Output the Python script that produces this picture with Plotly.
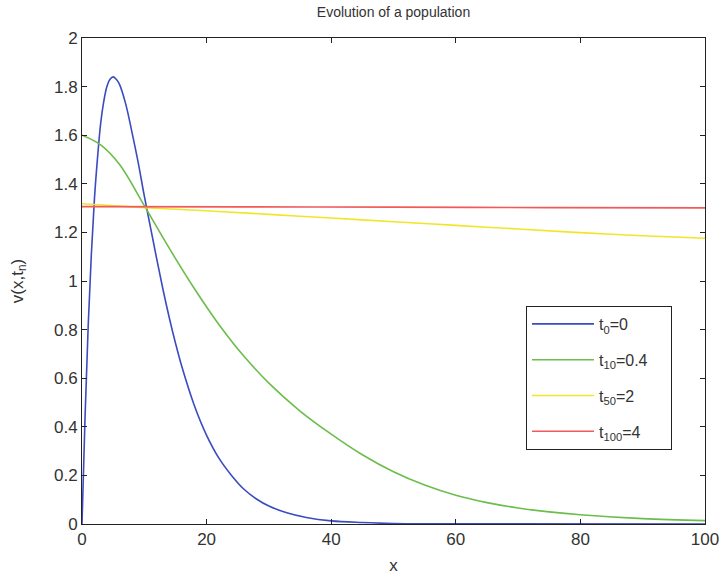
import plotly.graph_objects as go

# ---- data ----
x_t0 = [0, 0.5, 1, 1.5, 2, 2.5, 3, 3.5, 4, 4.5, 5, 5.5, 6, 7, 8, 9, 10, 11, 12, 13, 14, 15, 16,
        18, 20, 22, 24, 26, 28, 30, 33, 36, 40, 45, 50, 60, 100]
v_t0 = [0, 0.45, 0.82, 1.11, 1.34, 1.51, 1.65, 1.74, 1.80, 1.83, 1.84, 1.83, 1.81, 1.73, 1.615,
        1.49, 1.35, 1.22, 1.09, 0.965, 0.85, 0.745, 0.65, 0.49, 0.365, 0.27, 0.20, 0.143, 0.103,
        0.074, 0.045, 0.027, 0.013, 0.006, 0.002, 0.0004, 0]

x_t10 = [0, 3, 6, 10, 14, 18, 22, 26, 30, 35, 40, 45, 50, 55, 60, 65, 70, 75, 80, 90, 100]
v_t10 = [1.60, 1.56, 1.48, 1.31, 1.135, 0.97, 0.82, 0.69, 0.58, 0.465, 0.37, 0.285, 0.215,
         0.160, 0.118, 0.088, 0.066, 0.050, 0.038, 0.022, 0.014]

x_t50 = [0, 10, 20, 30, 40, 50, 60, 70, 80, 90, 100]
v_t50 = [1.318, 1.302, 1.289, 1.274, 1.259, 1.244, 1.229, 1.214, 1.199, 1.186, 1.176]

x_t100 = [0, 25, 50, 75, 100]
v_t100 = [1.306, 1.305, 1.304, 1.302, 1.301]

series_names = ["t<sub>0</sub>=0", "t<sub>10</sub>=0.4", "t<sub>50</sub>=2", "t<sub>100</sub>=4"]
series_colors = ["#3a4cc0", "#6bbd4c", "#f0e629", "#f25a5a"]

x_ticks = [0, 20, 40, 60, 80, 100]
y_ticks = [0, 0.2, 0.4, 0.6, 0.8, 1, 1.2, 1.4, 1.6, 1.8, 2]
y_ticktext = ["0", "0.2", "0.4", "0.6", "0.8", "1", "1.2", "1.4", "1.6", "1.8", "2"]

FONT = "Liberation Sans, Arial, Helvetica, sans-serif"
PAD = "&nbsp;" * 4  # widens the legend box like the reference

fig = go.Figure()
for i, (xs, ys, name, col) in enumerate(zip([x_t0, x_t10, x_t50, x_t100],
                                            [v_t0, v_t10, v_t50, v_t100],
                                            series_names, series_colors)):
    fig.add_trace(go.Scatter(x=xs, y=ys, mode="lines", name=name + PAD, legendgroup=f"g{i}",
                             line=dict(color=col, width=1.6, shape="spline", smoothing=1.0)))

axis_common = dict(showgrid=False, zeroline=False, showline=True, linecolor="#222",
                   linewidth=1, mirror="ticks", ticks="inside", ticklen=5,
                   tickcolor="#222", automargin=False,
                   tickfont=dict(family=FONT, size=17, color="#333"))

fig.update_layout(
    width=720, height=576,
    margin=dict(l=82, r=15, t=38, b=52),
    paper_bgcolor="white", plot_bgcolor="white",
    title=dict(text="Evolution of a population", x=(82 + 705) / 2 / 720, xanchor="center",
               y=1 - 12 / 576, yanchor="middle",
               font=dict(family=FONT, size=14, color="#333")),
    xaxis=dict(range=[0, 100], tickvals=x_ticks,
               title=dict(text="x", font=dict(family=FONT, size=17, color="#333"), standoff=10),
               **axis_common),
    yaxis=dict(range=[0, 2], tickvals=y_ticks, ticktext=y_ticktext,
               title=dict(text="v(x,t<sub>n</sub>)", font=dict(family=FONT, size=17, color="#333"),
                          standoff=26),
               **axis_common),
    legend=dict(x=(526 - 82) / 623, y=(524 - 306) / 486, xanchor="left", yanchor="top",
                bordercolor="#222", borderwidth=1, bgcolor="white",
                font=dict(family=FONT, size=16, color="#333"),
                tracegroupgap=12, itemwidth=62),
    showlegend=True,
)

fig.write_html("out.html")
